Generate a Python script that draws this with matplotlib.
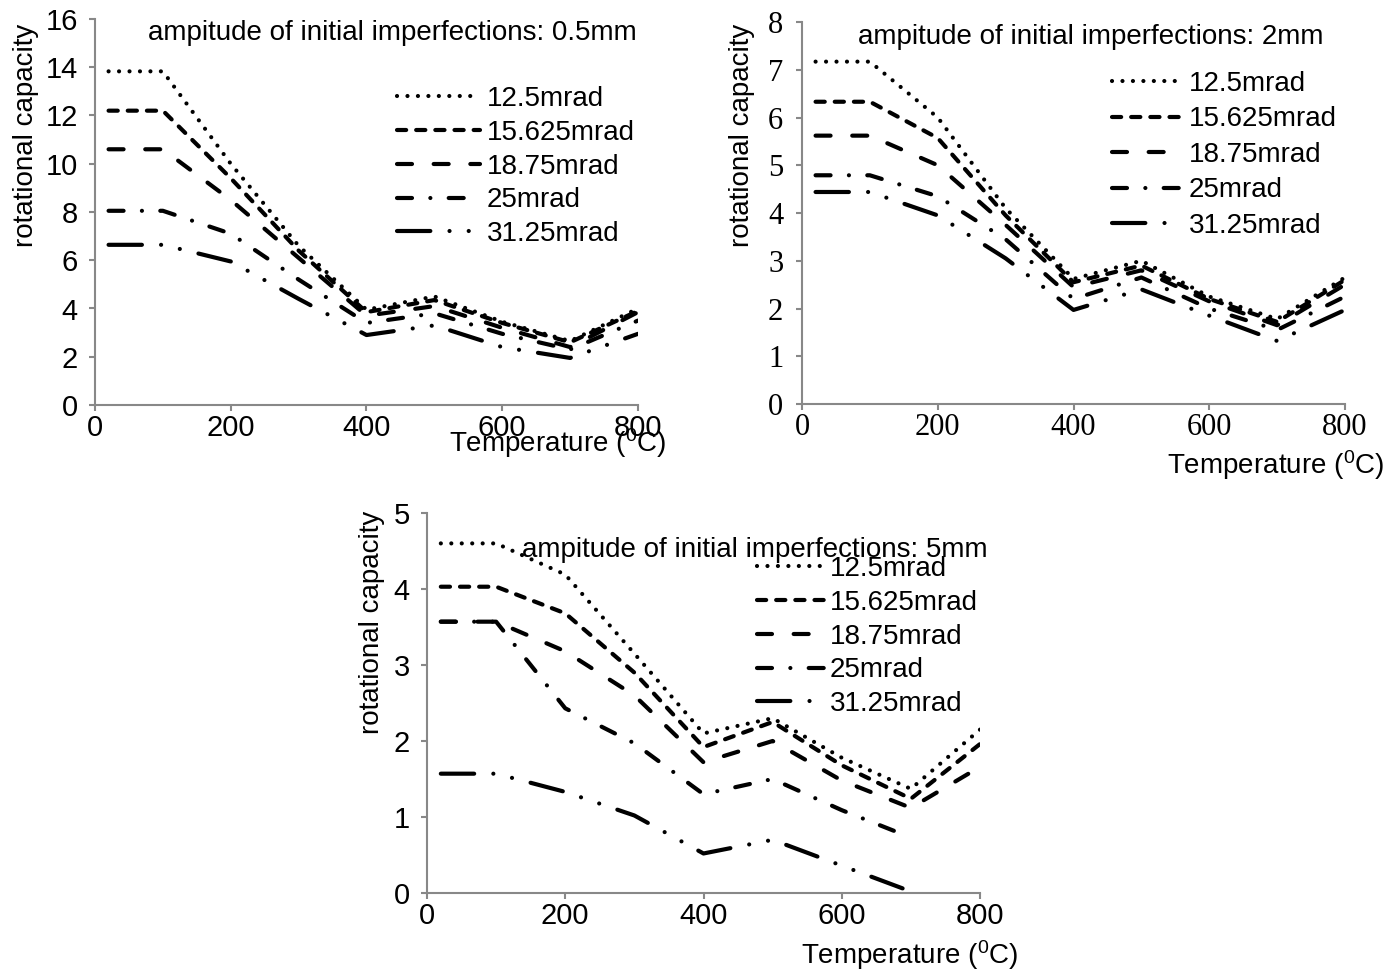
import numpy as np
import matplotlib
matplotlib.use("Agg")
import matplotlib.pyplot as plt

# ---------------- data ----------------
temperature = [20, 100, 200, 300, 400, 500, 600, 700, 800]
series_labels = ["12.5mrad", "15.625mrad", "18.75mrad", "25mrad", "31.25mrad"]

# amplitude 0.5 mm
p1_125 = [13.83, 13.83, 10.0, 6.6, 3.95, 4.5, 3.45, 2.65, 4.0]
p1_15625 = [12.2, 12.2, 9.4, 6.4, 3.85, 4.35, 3.4, 2.6, 3.9]
p1_1875 = [10.6, 10.6, 8.5, 6.1, 3.7, 4.1, 3.2, 2.4, 3.85]
p1_25 = [8.05, 8.05, 7.1, 5.2, 3.4, 3.8, 2.95, 2.3, 3.5]
p1_3125 = [6.64, 6.64, 5.95, 4.4, 2.9, 3.3, 2.4, 1.95, 2.95]

# amplitude 2 mm
p2_125 = [7.17, 7.17, 6.0, 4.1, 2.62, 3.0, 2.25, 1.78, 2.65]
p2_15625 = [6.33, 6.33, 5.57, 3.95, 2.55, 2.9, 2.2, 1.72, 2.6]
p2_1875 = [5.62, 5.62, 5.0, 3.75, 2.45, 2.8, 2.15, 1.65, 2.5]
p2_25 = [4.79, 4.79, 4.35, 3.45, 2.2, 2.65, 2.0, 1.55, 2.25]
p2_3125 = [4.44, 4.44, 3.95, 3.05, 1.97, 2.4, 1.85, 1.32, 1.97]

# amplitude 5 mm
p3_125 = [4.6, 4.6, 4.19, 3.15, 2.1, 2.3, 1.78, 1.37, 2.15]
p3_15625 = [4.03, 4.03, 3.68, 2.9, 1.92, 2.25, 1.68, 1.24, 1.96]
p3_1875 = [3.57, 3.57, 3.18, 2.6, 1.72, 2.0, 1.48, 1.12, 1.66]
p3_25 = [3.57, 3.57, 2.43, 1.97, 1.3, 1.5, 1.09, 0.73, np.nan]
p3_3125 = [1.57, 1.57, 1.33, 1.02, 0.52, 0.7, 0.36, 0.02, np.nan]

titles = ["ampitude of initial imperfections: 0.5mm",
          "ampitude of initial imperfections: 2mm",
          "ampitude of initial imperfections: 5mm"]
xticks = [0, 200, 400, 600, 800]
p1_yticks = [0, 2, 4, 6, 8, 10, 12, 14, 16]
p2_yticks = [0, 1, 2, 3, 4, 5, 6, 7, 8]
p3_yticks = [0, 1, 2, 3, 4, 5]

# ---------------- style ----------------
W, H = 1388, 971
fig = plt.figure(figsize=(W / 100, H / 100), dpi=100)
SANS = "Liberation Sans"
SERIF = "Liberation Serif"
GRAY = "#888888"
LW = 3.0
TXT = 20
dash_styles = [
    (0, (0.01, 2.5)),
    (0, (2.2, 2.4)),
    (0, (3.6, 5.2)),
    (0, (3.6, 4.4, 0.01, 4.4)),
    (0, (8.0, 4.6, 0.01, 4.6, 0.01, 4.6)),
]


def fx(px):
    return px / W


def fy(py):
    return 1 - py / H


def make_axes(left, right, top, bottom):
    return fig.add_axes([fx(left), fy(bottom), (right - left) / W, (bottom - top) / H])


def draw_panel(ax, data, yticks, tickfont, ticksize, title, title_xy, leg_xy, ylabel_xy,
               xlabel_xy, leg_space, handle_len, ypad):
    for vals, lab, ls in zip(data, series_labels, dash_styles):
        ax.plot(temperature, vals, color="black", lw=LW, linestyle=ls,
                dash_capstyle="round", solid_capstyle="round", label=lab)
    ax.set_xlim(0, 800)
    ax.set_ylim(yticks[0], yticks[-1])
    ax.set_xticks(xticks)
    ax.set_yticks(yticks)
    ax.set_xticklabels([str(v) for v in xticks], fontfamily=tickfont, fontsize=ticksize)
    ax.set_yticklabels([str(v) for v in yticks], fontfamily=tickfont, fontsize=ticksize)
    for s in ["top", "right"]:
        ax.spines[s].set_visible(False)
    for s in ["left", "bottom"]:
        ax.spines[s].set_color(GRAY)
        ax.spines[s].set_linewidth(1.5)
    ax.tick_params(axis="both", direction="out", length=4.5, width=1.5, color=GRAY)
    ax.tick_params(axis="x", pad=2)
    ax.tick_params(axis="y", pad=ypad)
    ax.patch.set_alpha(0)
    fig.text(fx(title_xy[0]), fy(title_xy[1]), title, fontfamily=SANS, fontsize=TXT,
             ha="left", va="center")
    fig.text(fx(ylabel_xy[0]), fy(ylabel_xy[1]), "rotational capacity", fontfamily=SANS,
             fontsize=TXT, rotation=90, ha="center", va="center")
    fig.text(fx(xlabel_xy[0]), fy(xlabel_xy[1]), "Temperature ($\\mathregular{^0}$C)",
             fontfamily=SANS, fontsize=TXT, ha="center", va="center")
    leg = ax.legend(loc="upper left", bbox_to_anchor=(fx(leg_xy[0]), fy(leg_xy[1])),
                    bbox_transform=fig.transFigure, frameon=False, borderpad=0,
                    borderaxespad=0, handlelength=handle_len, handletextpad=0.22,
                    labelspacing=leg_space, prop={"family": SANS, "size": TXT})
    return leg


ax1 = make_axes(95, 638, 19, 405)
draw_panel(ax1, [p1_125, p1_15625, p1_1875, p1_25, p1_3125], p1_yticks, SANS, 21, titles[0],
           (148, 33), (397, 86), (26, 135), (558, 443), 0.28, 3.0, 8)

ax2 = make_axes(802, 1345, 22, 404)
draw_panel(ax2, [p2_125, p2_15625, p2_1875, p2_25, p2_3125], p2_yticks, SERIF, 22, titles[1],
           (858, 37), (1112, 71), (742, 135), (1276, 465), 0.34, 2.55, 9)

ax3 = make_axes(427, 980, 513, 893)
draw_panel(ax3, [p3_125, p3_15625, p3_1875, p3_25, p3_3125], p3_yticks, SANS, 21, titles[2],
           (522, 550), (757, 556), (372, 622), (910, 955), 0.28, 2.4, 8)

fig.savefig("out.png", dpi=100)
